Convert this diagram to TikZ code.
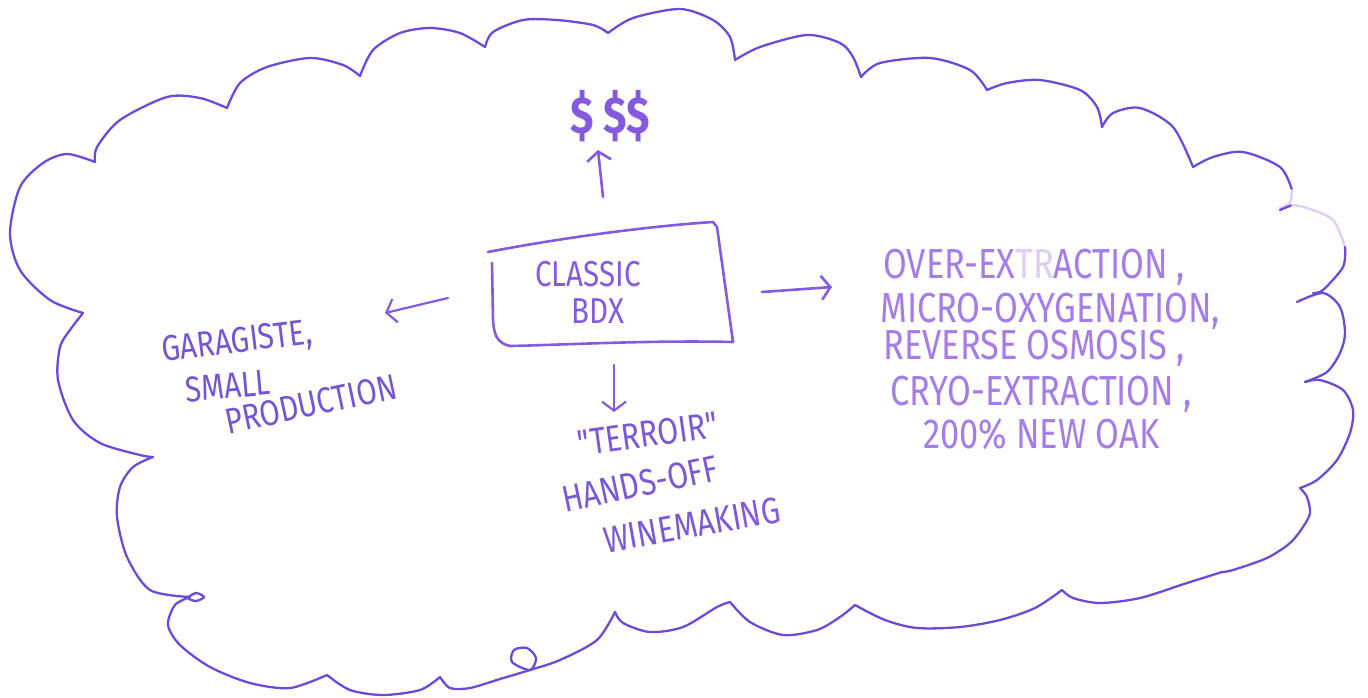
\documentclass[tikz,border=0pt]{standalone}
\usepackage{fontspec}
\newfontfamily\hand{Fira Sans}[FakeStretch=0.82]
\usetikzlibrary{arrows.meta}
\definecolor{cloudc}{RGB}{108,76,214}
\definecolor{boxc}{RGB}{132,90,224}
\definecolor{leftc}{RGB}{118,84,214}
\definecolor{rightc}{RGB}{165,125,232}
\definecolor{palec}{RGB}{222,206,244}
\definecolor{botc}{RGB}{122,88,214}
\begin{document}
\begin{tikzpicture}[x=1pt,y=-1pt,
  cloud/.style={draw=cloudc,line width=2.3pt,line cap=round,line join=round},
  boxline/.style={draw=boxc,line width=2.6pt,line cap=round,line join=round},
  arr/.style={draw=boxc,line width=2.6pt,line cap=round,-{Straight Barb[length=9pt,width=24pt]}},
  handtext/.style={inner sep=0pt,anchor=center},
  rtext/.style={inner sep=0pt,anchor=base west,text=rightc,font={\hand\fontsize{42pt}{44pt}\selectfont}},
  ltext/.style={inner sep=0pt,text=leftc,font={\hand\fontsize{36pt}{40pt}\selectfont}},
  btext/.style={inner sep=0pt,text=botc,font={\hand\fontsize{37pt}{40pt}\selectfont}}]
\useasboundingbox (0,0) rectangle (1368,697);
% cloud outline, bump by bump
\draw[cloud] plot[smooth] coordinates {(83,313) (50,300) (20,270) (10,233) (20,187) (43,163) (67,154) (95,162)};
\draw[cloud] plot[smooth] coordinates {(95,162) (97,147) (120,120) (167,97) (200,98) (227,108)};
\draw[cloud] plot[smooth] coordinates {(227,108) (240,83) (267,67) (310,58) (343,65) (360,76)};
\draw[cloud] plot[smooth] coordinates {(360,76) (373,50) (400,33) (430,28) (460,33) (485,47)};
\draw[cloud] plot[smooth] coordinates {(485,47) (493,32) (523,20) (557,20) (593,25) (608,33)};
\draw[cloud] plot[smooth] coordinates {(608,33) (633,18) (680,9) (713,20) (730,37) (735,60)};
\draw[cloud] plot[smooth] coordinates {(735,60) (760,47) (807,35) (840,43) (853,57) (861,77)};
\draw[cloud] plot[smooth] coordinates {(861,77) (880,63) (930,58) (970,70) (987,90)};
\draw[cloud] plot[smooth] coordinates {(987,90) (1007,83) (1040,80) (1080,90) (1097,107) (1102,127)};
\draw[cloud] plot[smooth] coordinates {(1102,127) (1113,113) (1140,108) (1173,127) (1193,167)};
\draw[cloud] plot[smooth] coordinates {(1193,167) (1213,157) (1243,152) (1280,167) (1292,190)};
\draw[cloud,draw=palec] plot[smooth] coordinates {(1292,190) (1290,203) (1280,208)};
\draw[cloud] (1280,210) -- (1292,205);
\draw[cloud,draw=palec] plot[smooth] coordinates {(1292,205) (1307,208) (1333,220) (1345,247)};
\draw[cloud] plot[smooth] coordinates {(1345,247) (1343,267) (1323,290) (1313,293)};
\draw[cloud] plot[smooth] coordinates {(1297,302) (1323,293) (1340,307) (1345,333) (1340,353) (1327,372) (1305,382)};
\draw[cloud] plot[smooth] coordinates {(1305,382) (1320,380) (1343,390) (1353,410) (1350,433) (1337,460) (1317,480) (1300,488)};
\draw[cloud] plot[smooth] coordinates {(1300,488) (1307,497) (1310,513) (1303,527) (1290,543) (1267,558) (1233,570) (1222,572)};
\draw[cloud] plot[smooth] coordinates {(1222,572) (1187,583) (1140,598) (1100,603) (1073,598) (1062,590)};
\draw[cloud] plot[smooth] coordinates {(1062,590) (1035,608) (1000,620) (960,627) (917,628) (885,620) (855,605)};
\draw[cloud] plot[smooth] coordinates {(855,605) (840,617) (817,630) (783,635) (750,622) (730,602)};
\draw[cloud] plot[smooth] coordinates {(730,602) (717,607) (683,627) (650,632) (623,623) (615,612)};
\draw[cloud] plot[smooth] coordinates {(615,612) (597,640) (560,660) (530,670) (500,679) (470,688) (450,688) (440,677)};
\draw[cloud] plot[smooth cycle] coordinates {(530,670) (512,662) (514,650) (527,648) (536,658)};
\draw[cloud] plot[smooth] coordinates {(440,677) (420,690) (383,695) (350,690) (327,675)};
\draw[cloud] plot[smooth] coordinates {(327,675) (290,688) (250,683) (210,667) (180,645) (168,625) (175,605) (190,597)};
\draw[cloud] plot[smooth cycle] coordinates {(188,598) (196,593) (204,597) (196,601)};
\draw[cloud] plot[smooth] coordinates {(190,597) (150,590) (127,557) (117,517) (120,487) (133,467) (153,457)};
\draw[cloud] plot[smooth] coordinates {(153,457) (140,455) (100,443) (73,420) (58,380) (60,347) (70,330) (83,313)};
% central box
\node[handtext,text=boxc,font={\hand\fontsize{36pt}{40pt}\selectfont}] (cl) at (588,274) {CLASSIC};
\node[handtext,text=boxc,font={\hand\fontsize{36pt}{40pt}\selectfont}] (bdx) at (598,311) {BDX};
\draw[boxline] (488,252) .. controls (560,238) and (650,226) .. (713,222) -- (717,227) -- (733,342)
  .. controls (650,340) and (560,345) .. (510,346) .. controls (497,343) and (494,335) .. (493,320) -- (492,263);
% money
\node[handtext,text=boxc,font={\hand\bfseries\fontsize{52pt}{56pt}\selectfont}] (money) at (610,116) {\$ \$\$};
\coordinate (upS) at (603,197);
\coordinate (upE) at (598,150);
\draw[arr] (upS) -- (upE);
% left
\node[ltext,rotate=7] (gar) at (237,343) {GARAGISTE,};
\node[ltext,rotate=5] (sml) at (228,386) {SMALL};
\node[ltext,rotate=12] (prod) at (311,404) {PRODUCTION};
\coordinate (lS) at (448,298);
\coordinate (lE) at (385,313);
\draw[arr,line width=2.2pt] (lS) -- (lE);
% right
\coordinate (rS) at (762,292);
\coordinate (rE) at (832,287);
\draw[arr] (rS) -- (rE);
\node[rtext] (r1) at (883,278) {OVER-EX\textcolor{palec}{TR}ACTION ,};
\node[rtext] (r2) at (880,322) {MICRO-OXYGENATION,};
\node[rtext] (r3) at (883,359) {REVERSE OSMOSIS ,};
\node[rtext] (r4) at (890,405) {CRYO-EXTRACTION ,};
\node[rtext] (r5) at (923,448) {200\% NEW OAK};
% down
\coordinate (dS) at (614,365);
\coordinate (dE) at (614,412);
\draw[arr,line width=2.2pt] (dS) -- (dE);
\node[btext,rotate=8] (ter) at (648,434) {"TERROIR"};
\node[btext,rotate=12] (hands) at (640,484) {HANDS-OFF};
\node[btext,rotate=10] (wine) at (692,525) {WINEMAKI\textcolor{boxc}{NG}};
\end{tikzpicture}
\end{document}
